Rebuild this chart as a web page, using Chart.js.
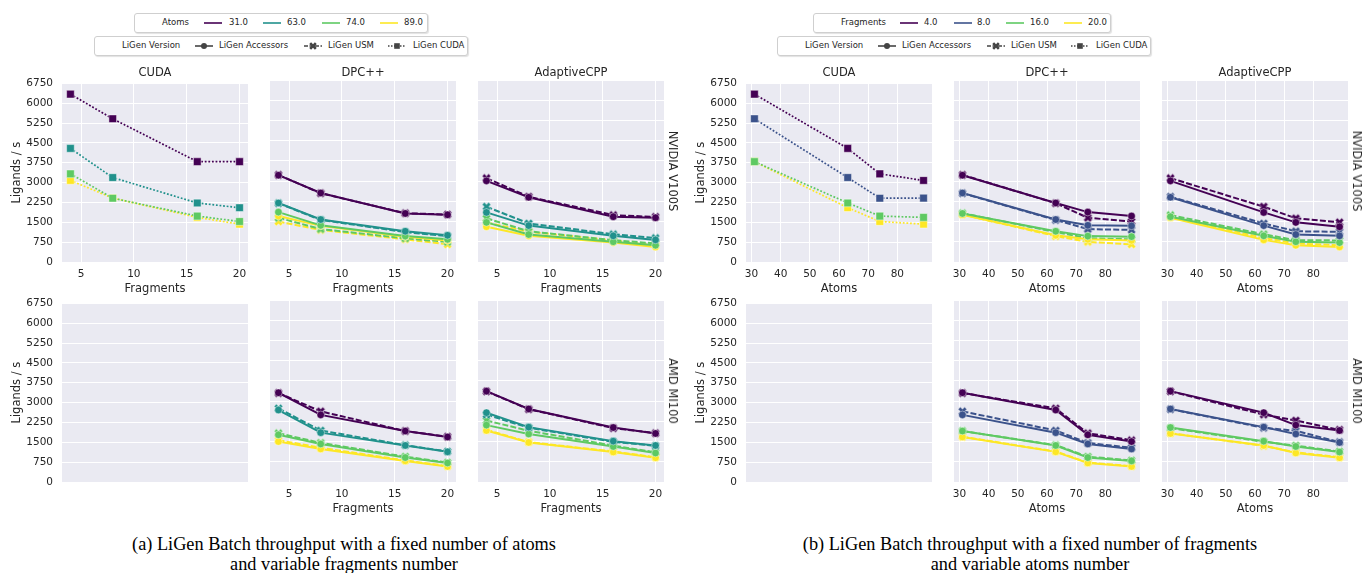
<!DOCTYPE html>
<html>
<head>
<meta charset="utf-8">
<script src="https://cdn.jsdelivr.net/npm/chart.js@4.4.1/dist/chart.umd.min.js"></script>
<style>
body { margin: 0; background: #fff; }
#fig { position: relative; width: 1365px; height: 573px; overflow: hidden; font-family: "DejaVu Sans"; color: #262626; }
#fig canvas { position: absolute; }
.ttl { position: absolute; font-size: 11.5px; white-space: nowrap; transform: translate(-50%, -50%); }
.rowlab { position: absolute; font-size: 11.5px; white-space: nowrap; transform: translate(-50%, -50%) rotate(90deg); }
.leg { position: absolute; height: 18px; background: #fff; border: 1px solid #cfcfcf; border-radius: 3px; box-shadow: 1px 1px 1px rgba(0,0,0,0.12); }
.leg span { position: absolute; top: 3px; font-size: 8.5px; white-space: nowrap; }
.cap { position: absolute; top: 534px; font-family: "Liberation Serif"; font-size: 18.3px; line-height: 20px; text-align: center; white-space: nowrap; transform: translateX(-50%); color: #000; }
</style>
</head>
<body>
<div id="fig"></div>
<script>
const atoms = [31, 63, 74, 89];
const fragments = [4, 8, 16, 20];
const yTicks = [0, 750, 1500, 2250, 3000, 3750, 4500, 5250, 6000, 6750];
const fragTicks = [5, 10, 15, 20];
const atomTicks = [30, 40, 50, 60, 70, 80];
const backends = ["CUDA", "DPC++", "AdaptiveCPP"];
const devices = ["NVIDIA V100S", "AMD MI100"];

// ligands / s ; rows = atoms (31, 63, 74, 89), columns = fragments (4, 8, 16, 20)
const v100sCuda     = [[6340, 5410, 3790, 3790], [4290, 3190, 2230, 2050], [3330, 2410, 1735, 1530], [3080, 2415, 1685, 1430]];
const v100sDpcAcc   = [[3220, 2560, 1800, 1750], [2190, 1575, 1140, 990], [1850, 1360, 960, 840], [1705, 1340, 940, 800]];
const v100sDpcUsm   = [[3230, 2550, 1810, 1760], [2180, 1560, 1110, 960], [1640, 1220, 880, 745], [1500, 1190, 840, 655]];
const v100sAcppAcc  = [[3010, 2400, 1680, 1640], [1840, 1350, 970, 820], [1470, 1020, 750, 620], [1305, 970, 720, 560]];
const v100sAcppUsm  = [[3110, 2420, 1740, 1670], [2050, 1430, 1030, 890], [1620, 1140, 810, 690], [1470, 1120, 800, 620]];
const mi100DpcAcc   = [[3310, 2490, 1890, 1670], [2670, 1830, 1355, 1118], [1750, 1410, 907, 705], [1500, 1225, 782, 575]];
const mi100DpcUsm   = [[3300, 2620, 1890, 1680], [2730, 1910, 1366, 1130], [1810, 1450, 940, 720], [1550, 1270, 800, 590]];
const mi100AcppAcc  = [[3370, 2710, 2020, 1800], [2570, 2035, 1515, 1355], [2110, 1780, 1317, 1075], [1910, 1466, 1110, 900]];
const mi100AcppUsm  = [[3360, 2700, 2000, 1810], [2500, 2010, 1490, 1340], [2280, 1900, 1350, 1100], [1935, 1480, 1130, 920]];

const atomColors = ["#440154", "#21918c", "#5ec962", "#fde725"];
const fragColors = ["#440154", "#3b528b", "#5ec962", "#fde725"];
const textColor = "#262626";

const fig = document.getElementById("fig");

function xMarker(color) {
    const c = document.createElement("canvas");
    c.width = c.height = 11;
    const g = c.getContext("2d");
    const L = 4.6, w = 1.6;
    g.translate(5.5, 5.5);
    g.rotate(Math.PI / 4);
    g.beginPath();
    const pts = [[-w,-L],[w,-L],[w,-w],[L,-w],[L,w],[w,w],[w,L],[-w,L],[-w,w],[-L,w],[-L,-w],[-w,-w]];
    pts.forEach((p, i) => i ? g.lineTo(p[0], p[1]) : g.moveTo(p[0], p[1]));
    g.closePath();
    g.fillStyle = color;
    g.fill();
    g.strokeStyle = "rgba(255,255,255,0.6)";
    g.lineWidth = 0.7;
    g.stroke();
    return c;
}

const styles = {
    acc:  color => ({ borderDash: [], pointStyle: "circle", pointRadius: 3.8, borderWidth: 2 }),
    usm:  color => ({ borderDash: [6, 2.2], pointStyle: xMarker(color), pointRadius: 4, borderWidth: 2 }),
    cuda: color => ({ borderDash: [1.8, 1.8], pointStyle: "rect", pointRadius: 5.4, borderWidth: 1.7 })
};

// byAtoms: hue = atoms, x = fragments ; otherwise hue = fragments, x = atoms
function buildSets(matrix, kind, byAtoms) {
    const out = [];
    for (let h = 0; h < 4; h++) {
        const color = byAtoms ? atomColors[h] : fragColors[h];
        const pts = [];
        for (let k = 0; k < 4; k++) {
            if (byAtoms) pts.push({ x: fragments[k], y: matrix[h][k] });
            else pts.push({ x: atoms[k], y: matrix[k][h] });
        }
        out.push(Object.assign({
            data: pts,
            borderColor: color,
            backgroundColor: color,
            pointBackgroundColor: color,
            pointBorderColor: "rgba(255,255,255,0.55)",
            pointBorderWidth: 0.8,
            tension: 0
        }, styles[kind](color)));
    }
    return out;
}

const plotBg = {
    id: "plotBg",
    beforeDraw(chart) {
        const { ctx, chartArea: a } = chart;
        ctx.save();
        ctx.fillStyle = "#eaeaf2";
        ctx.fillRect(a.left, a.top, a.right - a.left, a.bottom - a.top);
        ctx.restore();
    }
};

const groupX = [[62, 270, 478], [746, 954, 1162]];
const rowY = [80, 300];
const plotW = 186, plotH = 182;

const panelData = [
    [[["cuda", v100sCuda]], [["acc", v100sDpcAcc], ["usm", v100sDpcUsm]], [["acc", v100sAcppAcc], ["usm", v100sAcppUsm]]],
    [null, [["acc", mi100DpcAcc], ["usm", mi100DpcUsm]], [["acc", mi100AcppAcc], ["usm", mi100AcppUsm]]]
];

function makePanel(g, row, col) {
    const px = groupX[g][col], py = rowY[row];
    const byAtoms = g === 0;
    const spec = panelData[row][col];
    const empty = spec === null;
    let datasets = [];
    if (!empty) spec.forEach(([kind, m]) => { datasets = datasets.concat(buildSets(m, kind, byAtoms)); });

    const cv = document.createElement("canvas");
    cv.width = 60 + plotW + 14;
    cv.height = 12 + plotH + 40;
    cv.style.left = (px - 60) + "px";
    cv.style.top = (py - 12) + "px";
    fig.appendChild(cv);

    const xTicks = byAtoms ? fragTicks : atomTicks;
    new Chart(cv, {
        type: "line",
        data: { datasets },
        plugins: [plotBg],
        options: {
            responsive: false,
            animation: false,
            devicePixelRatio: 1,
            layout: { padding: { left: 0, top: 12, right: 14, bottom: 0 } },
            plugins: { legend: { display: false }, tooltip: { enabled: false } },
            scales: {
                x: {
                    type: "linear",
                    min: byAtoms ? 3.2 : 28.1,
                    max: byAtoms ? 20.8 : 91.9,
                    afterFit: s => { s.height = 40; },
                    afterBuildTicks: s => { s.ticks = xTicks.map(v => ({ value: v })); },
                    grid: { color: "#ffffff", lineWidth: 1, drawTicks: false, display: !empty },
                    border: { display: false },
                    ticks: { display: !empty, color: textColor, font: { family: "DejaVu Sans", size: 10.5 }, padding: 6,
                             callback: v => String(v) },
                    title: { display: !empty, text: byAtoms ? "Fragments" : "Atoms", color: textColor,
                             font: { family: "DejaVu Sans", size: 11.5 }, padding: { top: 0, bottom: 6 } }
                },
                y: {
                    min: 0,
                    max: 6750,
                    afterFit: s => { s.width = 60; },
                    afterBuildTicks: s => { s.ticks = yTicks.map(v => ({ value: v })); },
                    grid: { color: "#ffffff", lineWidth: 1, drawTicks: false },
                    border: { display: false },
                    ticks: { display: col === 0, color: textColor, font: { family: "DejaVu Sans", size: 10.5 }, padding: 9,
                             callback: v => String(v) },
                    title: { display: col === 0, text: "Ligands / s", color: textColor,
                             font: { family: "DejaVu Sans", size: 11.5 }, padding: { top: 8, bottom: 0 } }
                }
            }
        }
    });

    if (row === 0) addText("ttl", backends[col], px + plotW / 2, 72);
    if (col === 2) addText("rowlab", devices[row], px + plotW + 9, py + plotH / 2);
}

function addText(cls, text, x, y) {
    const d = document.createElement("div");
    d.className = cls;
    d.textContent = text;
    d.style.left = x + "px";
    d.style.top = y + "px";
    fig.appendChild(d);
}

function sampleSvg(color, dash, marker) {
    let s = '<svg width="18" height="10" viewBox="0 0 18 10">';
    s += '<line x1="0" y1="5" x2="18" y2="5" stroke="' + color + '" stroke-width="1.6"' + (dash ? ' stroke-dasharray="' + dash + '"' : '') + '/>';
    if (marker === "circle") s += '<circle cx="9" cy="5" r="3" fill="' + color + '"/>';
    if (marker === "x") s += '<path transform="translate(9 5) rotate(45)" d="M-1.3 -4 H1.3 V-1.3 H4 V1.3 H1.3 V4 H-1.3 V1.3 H-4 V-1.3 H-1.3 Z" fill="' + color + '"/>';
    if (marker === "rect") s += '<rect x="6.2" y="2.2" width="5.6" height="5.6" fill="' + color + '"/>';
    return s + '</svg>';
}

function addLegend(left, top, width, items) {
    const box = document.createElement("div");
    box.className = "leg";
    box.style.left = left + "px";
    box.style.top = top + "px";
    box.style.width = width + "px";
    items.forEach(it => {
        let el;
        if (it.svg) {
            el = document.createElement("div");
            el.innerHTML = it.svg;
            el.style.position = "absolute";
            el.style.top = "4px";
            el.style.lineHeight = "0";
        } else {
            el = document.createElement("span");
            el.textContent = it.text;
        }
        el.style.left = (it.x - left) + "px";
        box.appendChild(el);
    });
    fig.appendChild(box);
}

// colour legends
const atomLegX = [[203, 228], [262, 286], [321, 345], [379, 403]];
const fragLegX = [[899, 923], [953, 976], [1005, 1029], [1063, 1087]];
addLegend(134, 13, 292, [{ x: 161, text: "Atoms" }].concat(
    atoms.flatMap((a, i) => [{ x: atomLegX[i][0], svg: sampleSvg(atomColors[i], null, null) },
                             { x: atomLegX[i][1], text: a.toFixed(1) }])));
addLegend(813, 13, 296, [{ x: 840, text: "Fragments" }].concat(
    fragments.flatMap((f, i) => [{ x: fragLegX[i][0], svg: sampleSvg(fragColors[i], null, null) },
                                 { x: fragLegX[i][1], text: f.toFixed(1) }])));

// version legends
function versionLegend(dx) {
    addLegend(94 + dx, 36, 372, [
        { x: 121 + dx, text: "LiGen Version" },
        { x: 194 + dx, svg: sampleSvg("#444", null, "circle") },
        { x: 218 + dx, text: "LiGen Accessors" },
        { x: 303 + dx, svg: sampleSvg("#444", "4 1.5", "x") },
        { x: 327 + dx, text: "LiGen USM" },
        { x: 387 + dx, svg: sampleSvg("#444", "1.5 1.5", "rect") },
        { x: 412 + dx, text: "LiGen CUDA" }
    ]);
}
versionLegend(0);
versionLegend(683);

for (let g = 0; g < 2; g++)
    for (let r = 0; r < 2; r++)
        for (let c = 0; c < 3; c++)
            makePanel(g, r, c);

const capA = document.createElement("div");
capA.className = "cap";
capA.style.left = "344px";
capA.innerHTML = "(a) LiGen Batch throughput with a fixed number of atoms<br>and variable fragments number";
fig.appendChild(capA);
const capB = document.createElement("div");
capB.className = "cap";
capB.style.left = "1030px";
capB.innerHTML = "(b) LiGen Batch throughput with a fixed number of fragments<br>and variable atoms number";
fig.appendChild(capB);
</script>
</body>
</html>
